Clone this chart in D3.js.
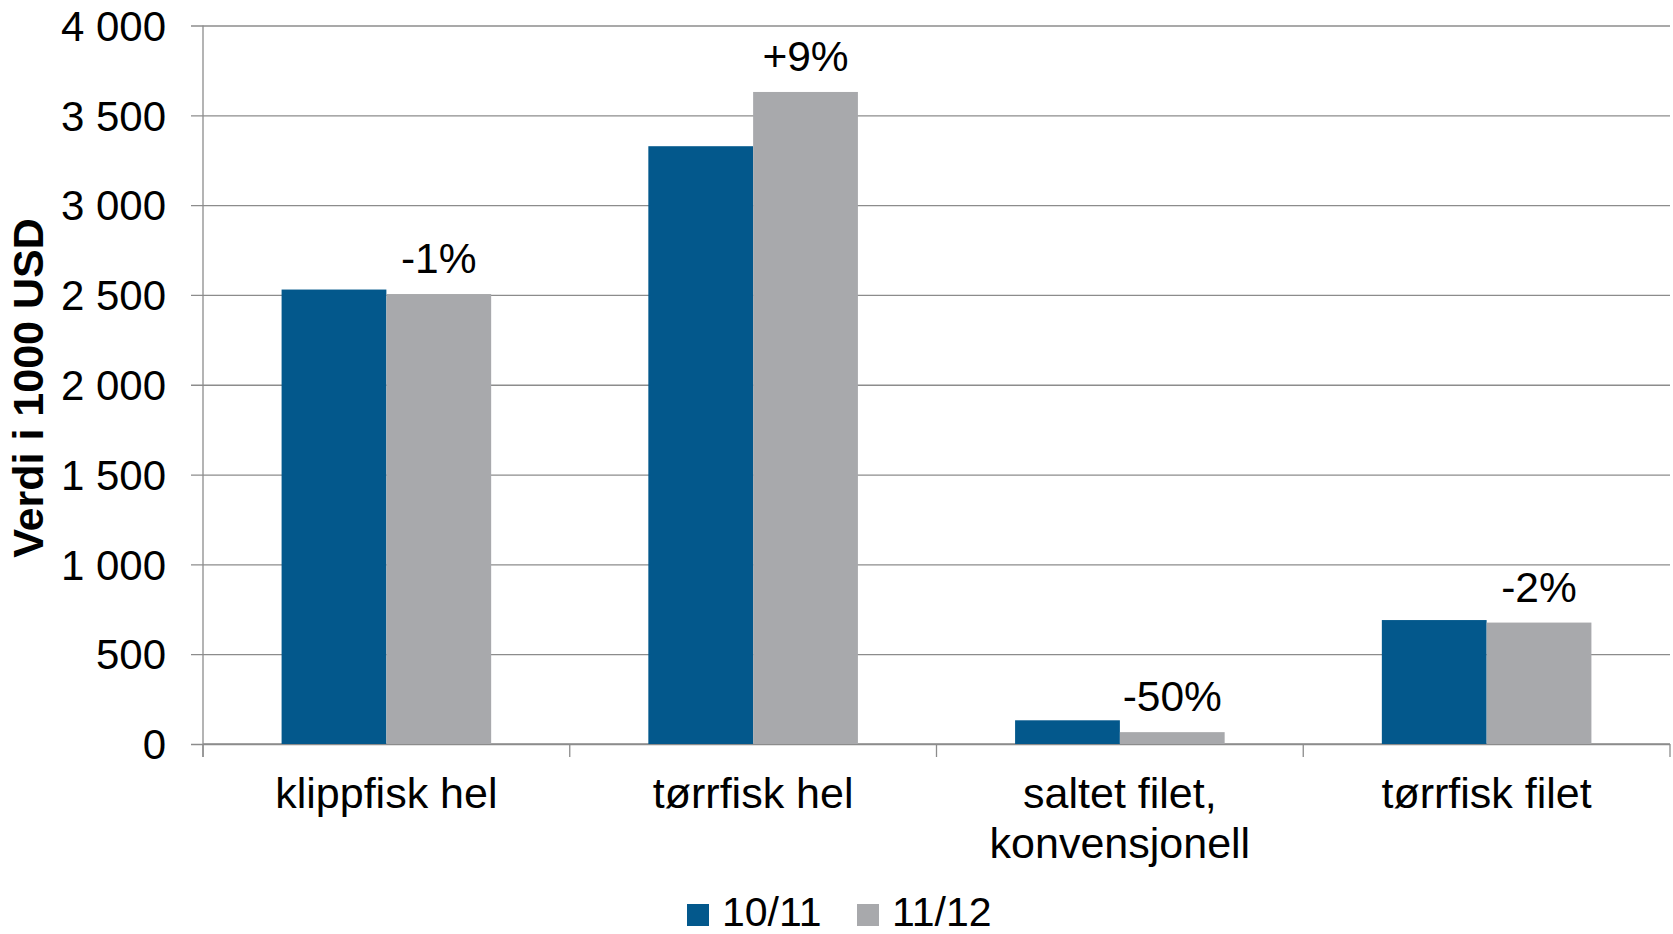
<!DOCTYPE html>
<html>
<head>
<meta charset="utf-8">
<script src="https://cdn.jsdelivr.net/npm/d3@7"></script>
<style>
  html, body { margin: 0; padding: 0; background: #fff; }
  svg { display: block; font-family: "Liberation Sans", Arial, sans-serif; }
</style>
</head>
<body>
<svg id="chart" width="1673" height="934"></svg>
<script>
const categories = ["klippfisk hel", "tørrfisk hel", "saltet filet,\nkonvensjonell", "tørrfisk filet"];
const seriesNames = ["10/11", "11/12"];
const values1011 = [2530, 3328, 132, 690];
const values1112 = [2505, 3630, 66, 676];
const changeLabels = ["-1%", "+9%", "-50%", "-2%"];
const yTicks = [0, 500, 1000, 1500, 2000, 2500, 3000, 3500, 4000];
const yTickLabels = ["0", "500", "1 000", "1 500", "2 000", "2 500", "3 000", "3 500", "4 000"];
const yTitle = "Verdi i 1000 USD";

const colors = {"10/11": "#03588C", "11/12": "#A8A9AC"};
const gridColor = "#8C8C8C";

const svg = d3.select("#chart");
const plotLeft = 203, plotRight = 1670, plotTop = 25.5, plotBottom = 744;

const x = d3.scaleBand().domain(categories).range([plotLeft, plotRight]).paddingInner(0).paddingOuter(0);
const x1 = d3.scaleBand().domain(seriesNames).range([0, x.bandwidth()]).paddingInner(0).paddingOuter(0.75);
const y = d3.scaleLinear().domain([0, 4000]).range([plotBottom, plotTop]);

// gridlines + y axis
const yAxis = d3.axisLeft(y).tickValues(yTicks)
  .tickFormat((d, i) => yTickLabels[i])
  .tickSize(-(plotRight - plotLeft)).tickSizeOuter(0).tickPadding(37);
const gy = svg.append("g").attr("transform", `translate(${plotLeft},0)`).call(yAxis);
gy.select(".domain").remove();
gy.selectAll(".tick line").attr("stroke", gridColor).attr("stroke-width", 1.3).attr("x1", -12);
gy.selectAll(".tick text").attr("font-size", 42).attr("fill", "#000")
  .attr("font-family", "Liberation Sans, Arial, sans-serif").attr("dy", "0.35em");

// y axis line
svg.append("line").attr("x1", plotLeft).attr("x2", plotLeft).attr("y1", plotTop).attr("y2", plotBottom + 13)
  .attr("stroke", gridColor).attr("stroke-width", 1.3);

// x axis
const catBounds = categories.map(c => x(c)).concat([plotRight]);
svg.append("g").selectAll("line").data(catBounds).join("line")
  .attr("x1", d => d).attr("x2", d => d).attr("y1", plotBottom).attr("y2", plotBottom + 13)
  .attr("stroke", gridColor).attr("stroke-width", 1.3);
svg.append("line").attr("x1", plotLeft).attr("x2", plotRight).attr("y1", plotBottom).attr("y2", plotBottom)
  .attr("stroke", gridColor).attr("stroke-width", 1.3);

// bars
const rows = categories.map((c, i) => ({cat: c, vals: [
  {s: "10/11", v: values1011[i]}, {s: "11/12", v: values1112[i]}
], label: changeLabels[i]}));

const groups = svg.append("g").selectAll("g").data(rows).join("g")
  .attr("transform", d => `translate(${x(d.cat)},0)`);
groups.selectAll("rect").data(d => d.vals).join("rect")
  .attr("x", d => x1(d.s)).attr("width", x1.bandwidth())
  .attr("y", d => y(d.v)).attr("height", d => y(0) - y(d.v))
  .attr("fill", d => colors[d.s]);

// change labels over the 11/12 bar
groups.append("text")
  .attr("x", x1("11/12") + x1.bandwidth() / 2)
  .attr("y", d => y(d.vals[1].v) - 21)
  .attr("text-anchor", "middle").attr("font-size", 42.5).attr("fill", "#000")
  .text(d => d.label);

// category labels
svg.append("g").selectAll("text").data(categories).join("text")
  .attr("x", d => x(d) + x.bandwidth() / 2)
  .attr("y", 808)
  .attr("text-anchor", "middle").attr("font-size", 43).attr("fill", "#000")
  .each(function(d) {
    const lines = d.split("\n");
    const t = d3.select(this);
    lines.forEach((ln, i) => {
      t.append("tspan").attr("x", x(d) + x.bandwidth() / 2).attr("dy", i === 0 ? 0 : 50).text(ln);
    });
  });

// y title
svg.append("text")
  .attr("transform", `translate(43,388) rotate(-90)`)
  .attr("text-anchor", "middle").attr("font-size", 43).attr("font-weight", "bold").attr("fill", "#000")
  .text(yTitle);

// legend
const lg = svg.append("g").selectAll("g").data(seriesNames).join("g")
  .attr("transform", (d, i) => `translate(${687 + i * 170},0)`);
lg.append("rect").attr("x", 0).attr("y", 904).attr("width", 22).attr("height", 22)
  .attr("fill", d => colors[d]);
lg.append("text").attr("x", 35).attr("y", 926).attr("font-size", 41).attr("fill", "#000")
  .text(d => d);
</script>
</body>
</html>
